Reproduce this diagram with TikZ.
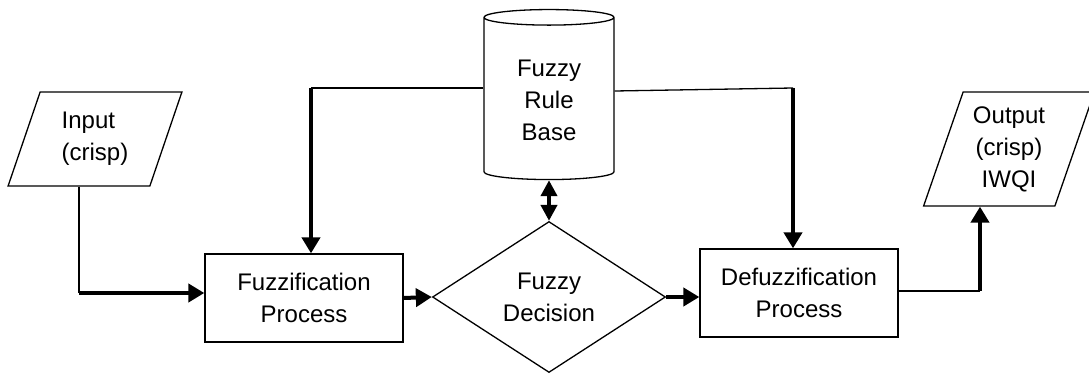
\documentclass[tikz,border=0pt]{standalone}
\usepackage{fontspec}
\setmainfont{Liberation Sans}
\usetikzlibrary{shapes.geometric,arrows.meta}
\begin{document}
\begin{tikzpicture}[x=1pt,y=-1pt,
  txt/.style={font=\fontsize{24}{32}\selectfont, align=center, line width=1.3pt},
  io/.style={txt, draw, trapezium, trapezium left angle=70, trapezium right angle=110, trapezium stretches=true, inner sep=0pt},
  proc/.style={txt, draw, rectangle, minimum width=198pt, minimum height=88pt},
  thinline/.style={line width=1.3pt},
  thickarrow/.style={line width=4pt, -{Triangle[width=18pt,length=16pt]}}]
\useasboundingbox (0,0) rectangle (1089,377);
\node[io, align=left, minimum width=174pt, minimum height=94pt] (in) at (95,139){Input\\(crisp)};
\node[proc] (fuzz) at (304,298){Fuzzification\\Process};
\node[txt, draw, cylinder, shape border rotate=90, aspect=0.22, minimum width=130pt, minimum height=170pt] (rb) at (549,100){Fuzzy\\Rule\\Base};
\node[txt, draw, diamond, minimum width=233pt, minimum height=151pt, inner sep=0pt] (dec) at (549,297){Fuzzy\\Decision};
\node[proc] (defuzz) at (799,293){Defuzzification\\Process};
\node[io, minimum width=171pt, minimum height=114pt] (out) at (1009,149){Output\\(crisp)\\IWQI};
\coordinate (inbend) at (79,293);
\coordinate (lbend) at (311,88);
\coordinate (rbend) at (793,88);
\coordinate (obend) at (980,291);
\draw[thinline](in.south -| inbend) -- (inbend);
\draw[thickarrow](inbend) -- (inbend -| fuzz.west);
\draw[thickarrow](fuzz.east) -- (dec.west);
\draw[thickarrow](dec.east) -- (dec.east -| defuzz.west);
\draw[thickarrow, {Triangle[width=16pt,length=16pt]}-{Triangle[width=16pt,length=16pt]}](rb.south) -- (dec.north);
\draw[thinline](rb.west |- lbend) -- (lbend);
\draw[thickarrow](lbend) -- (lbend |- fuzz.north);
\draw[thinline](rb.east |- 0,91) -- (rbend);
\draw[thickarrow](rbend) -- (rbend |- defuzz.north);
\draw[thinline](obend -| defuzz.east) -- (obend);
\draw[thickarrow](obend) -- (obend |- out.south);
\end{tikzpicture}
\end{document}
